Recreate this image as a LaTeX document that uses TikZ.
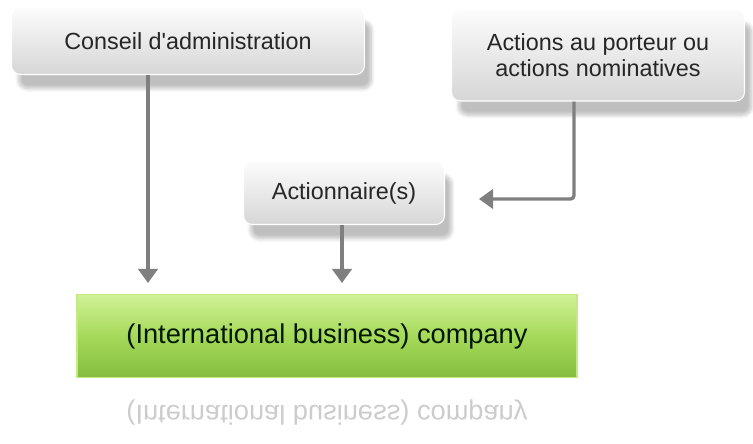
\documentclass[tikz,border=0pt]{standalone}
\usepackage{fontspec}
\setmainfont{Liberation Sans}
\usepackage{tikz}
\usetikzlibrary{arrows.meta,shadows.blur,positioning}
\definecolor{boxtop}{HTML}{FCFCFC}
\definecolor{boxbot}{HTML}{D6D6D6}
\definecolor{greentop}{HTML}{CFF296}
\definecolor{greenmid}{HTML}{A6D95A}
\definecolor{greenbot}{HTML}{84BE3E}
\definecolor{linkgrey}{HTML}{7F7F7F}
\tikzset
{
  greybox/.style = {rectangle, rounded corners=5pt, draw=white, line width=0.6pt, top color=boxtop, bottom color=boxbot, align=center, text=black!85, font=\fontsize{13.3}{15}\selectfont, blur shadow={shadow xshift=4pt, shadow yshift=-8pt, shadow blur steps=8, shadow opacity=25}},
  companybox/.style = {rectangle, draw=greentop!70!greenmid, line width=0.8pt, top color=greentop, bottom color=greenbot, middle color=greenmid, align=center, text=black!85!green!60!black, font=\fontsize{15.5}{18}\selectfont, minimum width=10cm, minimum height=1.66cm},
  link/.style = {draw=linkgrey, line width=1.9pt, -{Triangle[width=11pt,length=8pt]}}
}

\begin{document}
\begin{tikzpicture}[x=0.02cm,y=-0.02cm]
  \useasboundingbox (0,0) rectangle (753,443);
  \node [greybox, minimum width=7.06cm, minimum height=1.34cm] (conseil) at (188,41) {Conseil d\textquotesingle administration};
  \node [greybox, minimum width=5.86cm, minimum height=1.84cm] (porteur) at (598,55) {Actions au porteur ou\\actions nominatives};
  \node [greybox, minimum width=4.02cm, minimum height=1.26cm] (actionnaire) at (344,193) {Actionnaire(s)};
  \node [companybox] (company) at (327,336) {(International business) company};
  % reflet
  \begin{scope}[yscale=-1, transform shape]
    \node [align=center, text=black!20, font=\fontsize{15.5}{18}\selectfont] (reflet) at (327,-413) {(International business) company};
  \end{scope}
  \coordinate (cin) at (148,283);
  \coordinate (ain) at (342,283);
  \coordinate (pin) at (479,199);
  \draw [link] (conseil.south -| cin) -- (cin);
  \draw [link] (actionnaire.south -| ain) -- (ain);
  \draw [link, rounded corners=2pt] (porteur.south -| 574,0) |- (pin);
\end{tikzpicture}
\end{document}
